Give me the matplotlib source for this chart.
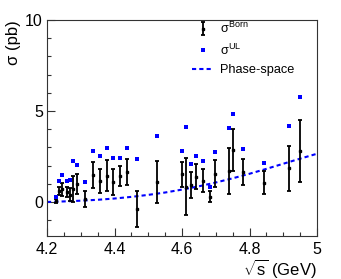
import matplotlib
matplotlib.use("Agg")
import matplotlib.pyplot as plt
from matplotlib.ticker import MultipleLocator

plt.rcParams['font.family'] = ['Liberation Sans', 'DejaVu Sans']
plt.rcParams['mathtext.fontset'] = 'custom'
plt.rcParams['mathtext.rm'] = 'Liberation Sans'
plt.rcParams['mathtext.it'] = 'Liberation Sans'
plt.rcParams['mathtext.sf'] = 'Liberation Sans'

# ---- data ----
energy = [4.226, 4.236, 4.244, 4.258, 4.267, 4.278, 4.288, 4.312, 4.337, 4.358,
          4.377, 4.396, 4.416, 4.436, 4.467, 4.527, 4.600, 4.612, 4.628, 4.641,
          4.661, 4.682, 4.699, 4.740, 4.750, 4.781, 4.843, 4.918, 4.951]
sigma_born = [0.05, 0.60, 0.70, 0.55, 0.40, 0.72, 1.00, 0.15, 1.48, 1.15,
              1.45, 1.09, 1.45, 1.64, -0.40, 1.08, 1.51, 0.85, 0.92, 1.38,
              1.17, 0.29, 1.56, 1.70, 2.85, 1.65, 1.06, 1.85, 2.80]
sigma_err = [0.10, 0.20, 0.35, 0.28, 0.35, 0.70, 0.55, 0.43, 0.73, 0.67,
             0.85, 0.73, 0.55, 0.70, 1.00, 1.15, 0.69, 1.58, 0.72, 0.68,
             0.64, 0.29, 0.72, 1.25, 1.15, 0.70, 0.64, 1.25, 1.72]
sigma_ul = [0.26, 1.15, 1.48, 1.14, 1.19, 2.23, 2.05, 1.10, 2.82, 2.53,
            2.98, 2.43, 2.43, 2.97, 2.35, 3.63, 2.80, 4.14, 2.07, 2.53,
            2.24, 0.81, 2.76, 4.05, 4.82, 2.90, 2.14, 4.16, 5.77]
ps_x = [4.20, 4.25, 4.30, 4.35, 4.40, 4.45, 4.50, 4.55, 4.60, 4.65,
        4.70, 4.75, 4.80, 4.85, 4.90, 4.95, 5.00]
ps_y = [0.00, 0.03, 0.07, 0.12, 0.19, 0.28, 0.39, 0.52, 0.68, 0.86,
        1.07, 1.30, 1.55, 1.82, 2.10, 2.38, 2.65]
xticks = [4.2, 4.4, 4.6, 4.8, 5.0]
xticklabels = ['4.2', '4.4', '4.6', '4.8', '5']
yticks = [0, 5, 10]

fig = plt.figure(figsize=(3.41, 2.79), dpi=100)
ax = fig.add_axes([47/341, 1-236/279, 270/341, 216/279])

h_ps, = ax.plot(ps_x, ps_y, color='#0000ff', lw=1.5, ls=(0, (2.0, 1.5)),
                label='Phase-space', zorder=2)
h_born = ax.errorbar(energy, sigma_born, yerr=sigma_err, fmt='s', color='black',
                     ms=2.0, elinewidth=1.3, capsize=1.7, capthick=1.3,
                     label=r'$\sigma^{\rm Born}$', zorder=3)
h_ul, = ax.plot(energy, sigma_ul, 's', color='#0000ff', ms=2.8, mew=0,
                label=r'$\sigma^{\rm UL}$', zorder=4)

ax.set_xlim(4.2, 5.0)
ax.set_ylim(-1.87, 10)
ax.set_xticks(xticks)
ax.set_xticklabels(xticklabels)
ax.set_yticks(yticks)
ax.xaxis.set_minor_locator(MultipleLocator(0.05))
ax.yaxis.set_minor_locator(MultipleLocator(1))
ax.tick_params(which='both', direction='in', top=False, right=False,
               labelsize=11.5, width=0.8, color='#333333')
ax.tick_params(which='major', length=5.5)
ax.tick_params(which='minor', length=2.8)
ax.tick_params(axis='x', pad=4)
ax.tick_params(axis='y', pad=3)
for s in ax.spines.values():
    s.set_linewidth(0.8)
    s.set_color('#333333')

ax.text(1.0, -0.095, r'$\sqrt{\rm s}$ (GeV)', transform=ax.transAxes,
        ha='right', va='top', fontsize=12)
ax.text(-0.125, 1.0, 'σ (pb)', transform=ax.transAxes, rotation=90,
        ha='center', va='top', fontsize=12)

ax.legend([h_born, h_ul, h_ps],
          [r'$\sigma^{\rm Born}$', r'$\sigma^{\rm UL}$', 'Phase-space'],
          loc='upper left',
          bbox_to_anchor=(0.537, 0.995), frameon=False, fontsize=9.2,
          borderpad=0, borderaxespad=0, handlelength=1.65,
          handletextpad=0.55, labelspacing=0.5)

fig.savefig('out.png', dpi=100)
